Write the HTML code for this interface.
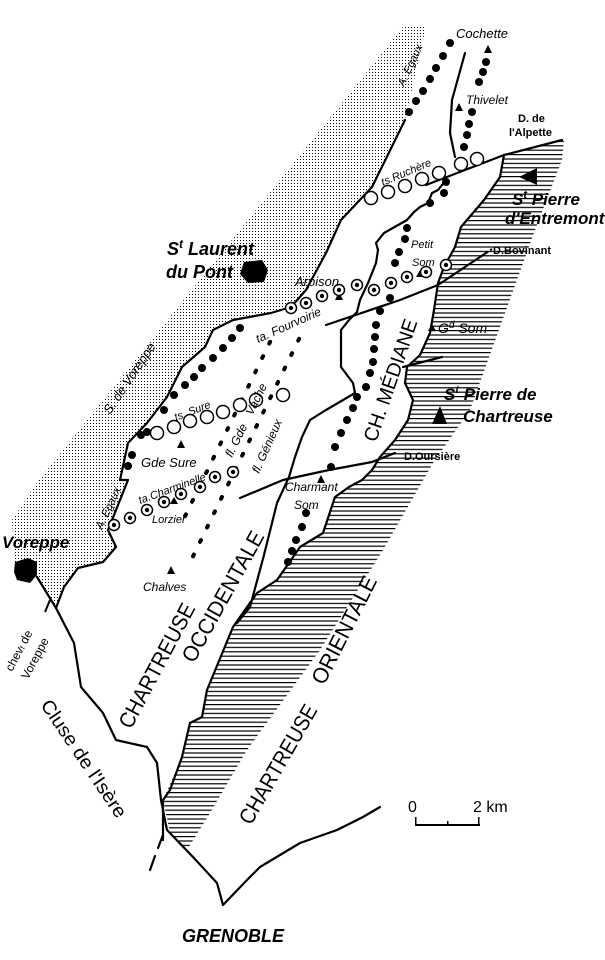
<!DOCTYPE html>
<html><head><meta charset="utf-8"><style>
html,body{margin:0;padding:0;background:#fff}
svg{display:block}
text{font-family:"Liberation Sans",sans-serif;fill:#000}
.i{font-style:italic}
</style></head><body>
<svg width="605" height="960" viewBox="0 0 605 960" xmlns="http://www.w3.org/2000/svg">
<defs>
<pattern id="st" width="3" height="3" patternUnits="userSpaceOnUse"><rect x="0" y="0" width="1" height="1" fill="#000"/></pattern>
<pattern id="ht" width="8" height="4.4" patternUnits="userSpaceOnUse"><rect x="0" y="0" width="8" height="1.2" fill="#000"/></pattern>
</defs>

<polygon fill="url(#st)" points="403,27 426,27 405,120 372,187 341,220 326,253 306,290 291,307 271,313 233,320 213,330 205,347 182,367 167,397 147,423 128,443 120,480 128,480 108,530 116,547 103,562 78,568 64,587 56,608 37,577 15,565 12,520 39,480"/>

<polygon fill="url(#ht)" points="504,155 564,140 562,160 535,230 470,410 433,463 383,550 320,650 247,750 210,813 187,850 170,832 163,800 182,757 190,723 202,717 207,690 233,627 257,593 277,580 300,547 323,533 335,497 349,487 362,480 372,470 380,457 395,440 408,420 413,400 405,383 407,367 420,355 430,333 434,310 438,283 444,267 455,247 461,227 484,200 500,177"/>

<g fill="none" stroke="#000" stroke-width="2.2" stroke-linejoin="round" stroke-linecap="round">
<polyline points="405,120 372,187 341,220 326,253 306,290 291,307 271,313 233,320 213,330 205,347 182,367 167,397 147,423 128,443 120,480 128,480 108,530 116,547 103,562 78,568 64,587 56,608"/>
<polyline points="37,577 56,608 74,643 81,687 103,713 116,740 147,747 157,763 161,800 167,830 193,857 217,883 223,905 247,880 260,867 300,843 337,830 363,817 380,807"/>
<polyline points="504,155 500,177 484,200 461,227 455,247 444,267 438,283 434,310 430,333 420,355 407,367 405,383 413,400 408,420 395,440 380,457 372,470 362,480 349,487 335,497 323,533 300,547 277,580 257,593 233,627 207,690 202,717 190,723 182,757 170,790 163,800 163,840"/>
<line x1="163" y1="835" x2="158" y2="848"/>
<line x1="155" y1="856" x2="150" y2="870"/>
<polyline points="562,140 504,155 426,185"/>
<polyline points="465,53 452,100 450,133 455,157"/>
<polyline points="446,180 438,190 432,193 428,203 420,207 414,212 407,220 384,233 376,243 378,250 376,263 368,283 360,300 357,312 349,320 341,330 341,367 353,383 355,393 326,410 310,420 302,437 295,457 289,477 277,503 264,555 250,607 237,623"/>
<polyline points="326,325 400,300 438,285 486,253"/>
<line x1="442" y1="357" x2="403" y2="367"/>
<polyline points="395,453 372,462 329,470 283,480 240,498"/>
</g>
<line x1="486" y1="253" x2="492" y2="249" stroke="#000" stroke-width="2" stroke-dasharray="3,2"/>

<g fill="#000">
<circle cx="450" cy="43" r="4"/><circle cx="443" cy="56" r="4"/><circle cx="436" cy="68" r="4"/><circle cx="430" cy="79" r="4"/><circle cx="423" cy="91" r="4"/><circle cx="416" cy="101" r="4"/><circle cx="409" cy="112" r="4"/>
<circle cx="486" cy="62" r="4"/><circle cx="483" cy="72" r="4"/><circle cx="479" cy="82" r="4"/><circle cx="472" cy="112" r="4"/><circle cx="469" cy="124" r="4"/><circle cx="467" cy="135" r="4"/><circle cx="464" cy="147" r="4"/>
<circle cx="446" cy="182" r="4"/><circle cx="444" cy="193" r="4"/><circle cx="430" cy="203" r="4"/><circle cx="407" cy="228" r="4"/><circle cx="405" cy="239" r="4"/><circle cx="399" cy="252" r="4"/><circle cx="395" cy="263" r="4"/>
<circle cx="390" cy="298" r="4"/><circle cx="380" cy="311" r="4"/><circle cx="376" cy="325" r="4"/><circle cx="375" cy="337" r="4"/><circle cx="374" cy="349" r="4"/><circle cx="373" cy="362" r="4"/><circle cx="370" cy="373" r="4"/><circle cx="366" cy="387" r="4"/><circle cx="357" cy="397" r="4"/><circle cx="353" cy="408" r="4"/><circle cx="347" cy="420" r="4"/><circle cx="341" cy="433" r="4"/><circle cx="335" cy="447" r="4"/><circle cx="331" cy="467" r="4"/>
<circle cx="306" cy="513" r="4"/><circle cx="302" cy="527" r="4"/><circle cx="296" cy="540" r="4"/><circle cx="292" cy="551" r="4"/><circle cx="288" cy="562" r="4"/>
<circle cx="240" cy="328" r="4"/><circle cx="232" cy="338" r="4"/><circle cx="223" cy="348" r="4"/><circle cx="213" cy="358" r="4"/><circle cx="202" cy="368" r="4"/><circle cx="194" cy="377" r="4"/><circle cx="185" cy="385" r="4"/><circle cx="174" cy="395" r="4"/><circle cx="164" cy="410" r="4"/><circle cx="147" cy="432" r="4"/><circle cx="141" cy="435" r="4"/><circle cx="132" cy="455" r="4"/><circle cx="128" cy="466" r="4"/>
<g transform="translate(271,340) rotate(116)"><rect x="0" y="-2" width="6" height="4" rx="2"/><rect x="16" y="-2" width="6" height="4" rx="2"/><rect x="32" y="-2" width="6" height="4" rx="2"/><rect x="48" y="-2" width="6" height="4" rx="2"/><rect x="64" y="-2" width="6" height="4" rx="2"/><rect x="80" y="-2" width="6" height="4" rx="2"/><rect x="96" y="-2" width="6" height="4" rx="2"/><rect x="112" y="-2" width="6" height="4" rx="2"/><rect x="128" y="-2" width="6" height="4" rx="2"/><rect x="144" y="-2" width="6" height="4" rx="2"/><rect x="160" y="-2" width="6" height="4" rx="2"/><rect x="176" y="-2" width="6" height="4" rx="2"/><rect x="192" y="-2" width="6" height="4" rx="2"/></g>
<g transform="translate(300,337) rotate(116)"><rect x="0" y="-2" width="6" height="4" rx="2"/><rect x="16" y="-2" width="6" height="4" rx="2"/><rect x="32" y="-2" width="6" height="4" rx="2"/><rect x="48" y="-2" width="6" height="4" rx="2"/><rect x="64" y="-2" width="6" height="4" rx="2"/><rect x="80" y="-2" width="6" height="4" rx="2"/><rect x="96" y="-2" width="6" height="4" rx="2"/><rect x="112" y="-2" width="6" height="4" rx="2"/><rect x="128" y="-2" width="6" height="4" rx="2"/><rect x="144" y="-2" width="6" height="4" rx="2"/><rect x="160" y="-2" width="6" height="4" rx="2"/><rect x="176" y="-2" width="6" height="4" rx="2"/><rect x="192" y="-2" width="6" height="4" rx="2"/><rect x="208" y="-2" width="6" height="4" rx="2"/><rect x="224" y="-2" width="6" height="4" rx="2"/><rect x="240" y="-2" width="6" height="4" rx="2"/></g>
<polygon points="488,45 484,53 492,53"/>
<polygon points="459,103 455,111 463,111"/>
<polygon points="339,292 335,300 343,300"/>
<polygon points="420,270 416,277 424,277"/>
<polygon points="432,324 428,331 436,331"/>
<polygon points="181,440 177,448 185,448"/>
<polygon points="174,497 170,504 178,504"/>
<polygon points="321,475 317,483 325,483"/>
<polygon points="171,566 167,574 175,574"/>
<polygon points="519,177 537,168 537,185"/>
<polygon points="440,406 432,424 447,424"/>
<polygon points="244,262 262,260 268,270 264,282 248,283 240,274"/>
<polygon points="15,562 28,558 37,562 37,575 30,583 17,580 14,572"/>
<rect x="415" y="824" width="65" height="2"/>
<rect x="415" y="817" width="1.5" height="9"/><rect x="447" y="821" width="1.5" height="5"/><rect x="478" y="817" width="1.5" height="9"/>
</g>

<g fill="#fff" stroke="#000" stroke-width="1.5">
<circle cx="477" cy="159" r="6.5"/><circle cx="461" cy="164" r="6.5"/><circle cx="439" cy="173" r="6.5"/><circle cx="422" cy="179" r="6.5"/><circle cx="405" cy="186" r="6.5"/><circle cx="388" cy="192" r="6.5"/><circle cx="371" cy="198" r="6.5"/>
<circle cx="157" cy="433" r="6.5"/><circle cx="174" cy="427" r="6.5"/><circle cx="190" cy="421" r="6.5"/><circle cx="207" cy="417" r="6.5"/><circle cx="223" cy="412" r="6.5"/><circle cx="240" cy="405" r="6.5"/><circle cx="256" cy="400" r="6.5"/><circle cx="283" cy="395" r="6.5"/>
<circle cx="446" cy="265" r="5.5"/><circle cx="426" cy="272" r="5.5"/><circle cx="407" cy="277" r="5.5"/><circle cx="391" cy="283" r="5.5"/><circle cx="374" cy="290" r="5.5"/><circle cx="357" cy="285" r="5.5"/><circle cx="339" cy="290" r="5.5"/><circle cx="322" cy="296" r="5.5"/><circle cx="306" cy="303" r="5.5"/><circle cx="291" cy="308" r="5.5"/>
<circle cx="215" cy="477" r="5.5"/><circle cx="233" cy="472" r="5.5"/><circle cx="200" cy="487" r="5.5"/><circle cx="181" cy="494" r="5.5"/><circle cx="164" cy="502" r="5.5"/><circle cx="147" cy="510" r="5.5"/><circle cx="130" cy="518" r="5.5"/><circle cx="114" cy="525" r="5.5"/>
</g>
<g fill="#000">
<circle cx="446" cy="265" r="2.2"/><circle cx="426" cy="272" r="2.2"/><circle cx="407" cy="277" r="2.2"/><circle cx="391" cy="283" r="2.2"/><circle cx="374" cy="290" r="2.2"/><circle cx="357" cy="285" r="2.2"/><circle cx="339" cy="290" r="2.2"/><circle cx="322" cy="296" r="2.2"/><circle cx="306" cy="303" r="2.2"/><circle cx="291" cy="308" r="2.2"/>
<circle cx="215" cy="477" r="2.2"/><circle cx="233" cy="472" r="2.2"/><circle cx="200" cy="487" r="2.2"/><circle cx="181" cy="494" r="2.2"/><circle cx="164" cy="502" r="2.2"/><circle cx="147" cy="510" r="2.2"/><circle cx="130" cy="518" r="2.2"/><circle cx="114" cy="525" r="2.2"/>
</g>

<g class="i">
<text x="456" y="38" font-size="13">Cochette</text>
<text x="466" y="104" font-size="12">Thivelet</text>
<text x="383" y="186" font-size="11" transform="rotate(-23 383 186)">ts.Ruchère</text>
<text x="295" y="286" font-size="13">Arpison</text>
<text x="411" y="248" font-size="11">Petit</text>
<text x="412" y="266" font-size="11">Som</text>
<text x="258" y="343" font-size="12" transform="rotate(-24 258 343)">ta. Fourvoirie</text>
<text x="438" y="333" font-size="14">G<tspan font-size="10" dy="-5">d</tspan><tspan dy="5"> Som</tspan></text>
<text x="110" y="415" font-size="13" transform="rotate(-56 110 415)">S. de Voreppe</text>
<text x="176" y="421" font-size="11" transform="rotate(-21 176 421)">ts. Sure</text>
<text x="141" y="467" font-size="13">Gde Sure</text>
<text x="232" y="458" font-size="12" transform="rotate(-64 232 458)">fl. Gde <tspan dx="8">Vache</tspan></text>
<text x="259" y="474" font-size="12" transform="rotate(-66 259 474)">fl. Génieux</text>
<text x="140" y="504" font-size="11" transform="rotate(-20 140 504)">ta.Charminelle</text>
<text x="152" y="523" font-size="11">Lorzier</text>
<text x="404" y="87" font-size="11" transform="rotate(-65 404 87)">A. Egaux</text>
<text x="102" y="530" font-size="11" transform="rotate(-65 102 530)">A. Egaux</text>
<text x="285" y="491" font-size="12">Charmant</text>
<text x="294" y="509" font-size="12">Som</text>
<text x="143" y="591" font-size="12">Chalves</text>
<text x="2" y="548" font-size="17" font-weight="bold">Voreppe</text>
<text x="167" y="255" font-size="18" font-weight="bold">S<tspan font-size="12" dy="-7">t</tspan><tspan dy="7"> Laurent</tspan></text>
<text x="166" y="278" font-size="18" font-weight="bold">du Pont</text>
<text x="512" y="205" font-size="17" font-weight="bold">S<tspan font-size="11" dy="-7">t</tspan><tspan dy="7"> Pierre</tspan></text>
<text x="505" y="224" font-size="17" font-weight="bold">d'Entremont</text>
<text x="444" y="400" font-size="17" font-weight="bold">S<tspan font-size="11" dy="-7">t</tspan><tspan dy="7"> Pierre de</tspan></text>
<text x="463" y="422" font-size="17" font-weight="bold">Chartreuse</text>
<text x="182" y="942" font-size="18" font-weight="bold">GRENOBLE</text>
</g>
<text x="518" y="122" font-size="11" font-weight="bold">D. de</text>
<text x="509" y="136" font-size="11" font-weight="bold">l'Alpette</text>
<text x="493" y="254" font-size="11" font-weight="bold">D.Bovinant</text>
<text x="404" y="460" font-size="11" font-weight="bold">D.Oursière</text>
<text x="376" y="443" font-size="20" textLength="128" lengthAdjust="spacingAndGlyphs" transform="rotate(-71 376 443)">CH. MÉDIANE</text>
<text x="131" y="730" font-size="22" textLength="138" lengthAdjust="spacingAndGlyphs" transform="rotate(-62 131 730)">CHARTREUSE</text>
<text x="194" y="664" font-size="22" textLength="146" lengthAdjust="spacingAndGlyphs" transform="rotate(-61 194 664)">OCCIDENTALE</text>
<text x="251" y="826" font-size="22" textLength="134" lengthAdjust="spacingAndGlyphs" transform="rotate(-60 251 826)">CHARTREUSE</text>
<text x="324" y="686" font-size="22" textLength="118" lengthAdjust="spacingAndGlyphs" transform="rotate(-63 324 686)">ORIENTALE</text>
<text x="40" y="705" font-size="19" textLength="138" lengthAdjust="spacingAndGlyphs" transform="rotate(56 40 705)">Cluse de l'Isère</text>
<text x="12" y="672" font-size="12" transform="rotate(-62 12 672)">chev<tspan font-size="8">t</tspan> de</text>
<text x="28" y="680" font-size="12" transform="rotate(-62 28 680)">Voreppe</text>
<line x1="45" y1="612" x2="50" y2="600" stroke="#000" stroke-width="2"/>
<text x="408" y="812" font-size="16">0</text>
<text x="473" y="812" font-size="16">2 km</text>
</svg>
</body></html>
